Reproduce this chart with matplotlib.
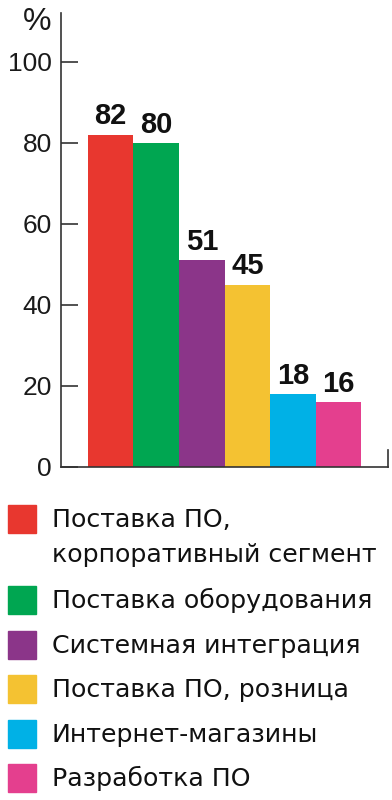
import matplotlib
matplotlib.use("Agg")
import matplotlib.pyplot as plt
from matplotlib.patches import Rectangle

categories = ["Поставка ПО,\nкорпоративный сегмент", "Поставка оборудования",
              "Системная интеграция", "Поставка ПО, розница",
              "Интернет-магазины", "Разработка ПО"]
values = [82, 80, 51, 45, 18, 16]
colors = ["#E8372F", "#00A651", "#8B3589", "#F4C232", "#00B1E6", "#E43F8E"]
yticks = [0, 20, 40, 60, 80, 100]

W, H = 392, 800
fig = plt.figure(figsize=(W / 100, H / 100), dpi=100)
fig.patch.set_facecolor("white")

def fx(px):
    return px / W

def fy(py):
    return 1 - py / H

ax = fig.add_axes([fx(61), fy(467), fx(388) - fx(61), fy(13) - fy(467)])
x = list(range(len(values)))
bars = ax.bar(x, values, width=1.0, color=colors, edgecolor="none")
ax.set_xlim(-1.093, 6.093)
ax.set_ylim(0, 112)
ax.bar_label(bars, labels=[str(v) for v in values], padding=3,
             fontsize=21, fontweight="bold", family=["Liberation Sans", "DejaVu Sans"],
             color="#111111")

axcol = "#333333"
ax.spines["top"].set_visible(False)
for s in ["left", "bottom", "right"]:
    ax.spines[s].set_color(axcol)
    ax.spines[s].set_linewidth(1.2)
ax.spines["right"].set_bounds(0, 4.2)
ax.set_xticks([])
ax.set_yticks(yticks)
ax.set_yticklabels([str(t) for t in yticks])
ax.tick_params(axis="y", direction="in", length=12.5, width=1.2, color=axcol,
               pad=6.5, labelsize=19, labelcolor="#1a1a1a")
for lab in ax.get_yticklabels():
    lab.set_family(["Liberation Sans", "DejaVu Sans"])
ax.set_facecolor("none")

fig.text(fx(37), fy(22), "%", ha="center", va="center", fontsize=23,
         family=["Liberation Sans", "DejaVu Sans"], color="#1a1a1a")

# legend
row_centers = [519, 600, 645, 689, 734, 778]
sq = 28
for cat, col, cy in zip(categories, colors, row_centers):
    fig.patches.append(Rectangle((fx(8), fy(cy + sq / 2)), fx(sq), sq / H,
                                 transform=fig.transFigure, color=col, figure=fig))
    lines = cat.split("\n")
    for i, line in enumerate(lines):
        fig.text(fx(52), fy(cy + 8 + 35 * i), line, ha="left", va="baseline",
                 fontsize=18.2, family=["DejaVu Sans"], color="#111111")

fig.savefig("out.png", dpi=100, facecolor="white")
